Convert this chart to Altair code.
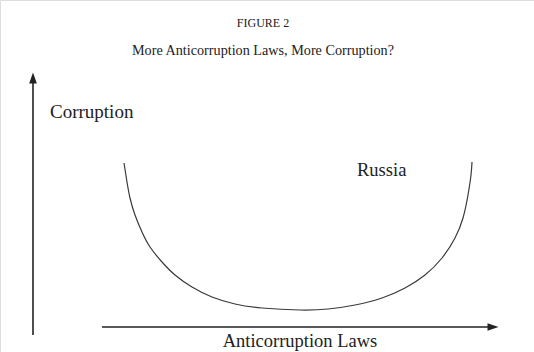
import altair as alt
import pandas as pd

# U-shaped curve: x = anticorruption laws, y = corruption (chart units, origin at axes corner)
laws = [91, 94, 97, 102, 109, 117, 129, 142, 159, 179, 202, 229, 267, 295, 322, 349, 372, 392, 409, 422, 430, 435, 438, 439]
corruption = [164, 145, 129, 112, 95, 80, 65, 52, 40, 30, 23, 19, 17, 18, 22, 29, 39, 52, 69, 89, 109, 132, 152, 165]

# Axis arrows extents (chart units)
y_axis_from, y_axis_to = -8, 249
x_axis_from, x_axis_to = 69, 460

curve_df = pd.DataFrame({"laws": laws, "corruption": corruption})

xs = alt.Scale(domain=[-33, 501], nice=False, zero=False)
ys = alt.Scale(domain=[-25, 327], nice=False, zero=False)

base = alt.Chart(curve_df)

curve = base.mark_line(interpolate="natural", color="#3a3a3a", strokeWidth=1.2).encode(
    x=alt.X("laws:Q", scale=xs, axis=None),
    y=alt.Y("corruption:Q", scale=ys, axis=None),
    order=alt.Order("laws:Q"),
)

vaxis = alt.Chart(pd.DataFrame({"x": [0], "y": [y_axis_from], "y2": [y_axis_to]})).mark_rule(
    color="#222", strokeWidth=1.6
).encode(x=alt.X("x:Q", scale=xs, axis=None), y=alt.Y("y:Q", scale=ys, axis=None), y2="y2:Q")

haxis = alt.Chart(pd.DataFrame({"y": [0], "x": [x_axis_from], "x2": [x_axis_to]})).mark_rule(
    color="#222", strokeWidth=1.6
).encode(y=alt.Y("y:Q", scale=ys, axis=None), x=alt.X("x:Q", scale=xs, axis=None), x2="x2:Q")

uphead = alt.Chart(pd.DataFrame({"x": [0], "y": [y_axis_to]})).mark_point(
    shape="M0,-1L0.7,1L-0.7,1Z", size=121, filled=True, color="#222", opacity=1
).encode(x=alt.X("x:Q", scale=xs, axis=None), y=alt.Y("y:Q", scale=ys, axis=None))

righthead = alt.Chart(pd.DataFrame({"x": [x_axis_to], "y": [0]})).mark_point(
    shape="M1,0L-1,-0.7L-1,0.7Z", size=121, filled=True, color="#222", opacity=1
).encode(x=alt.X("x:Q", scale=xs, axis=None), y=alt.Y("y:Q", scale=ys, axis=None))

serif = "Liberation Serif"

def label(text, x, y, size, align="center", baseline="middle", color="#222"):
    return alt.Chart(pd.DataFrame({"t": [text]})).mark_text(
        font=serif, fontSize=size, align=align, baseline=baseline, color=color
    ).encode(x=alt.value(x), y=alt.value(y), text="t:N")

labels = [
    label("FIGURE 2", 263, 23, 12),
    label("More Anticorruption Laws, More Corruption?", 263, 51, 14.2),
    label("Corruption", 50, 112, 19, align="left"),
    label("Russia", 357, 170, 18.5, align="left"),
    label("Anticorruption Laws", 300, 341, 18.5),
]

chart = alt.layer(curve, vaxis, haxis, uphead, righthead, *labels).properties(
    width=534, height=352, padding=0, autosize=alt.AutoSizeParams(type="none")
).configure_view(stroke=None).configure(background="white")

chart.save("out.html", embed_options={"renderer": "svg", "actions": False})
